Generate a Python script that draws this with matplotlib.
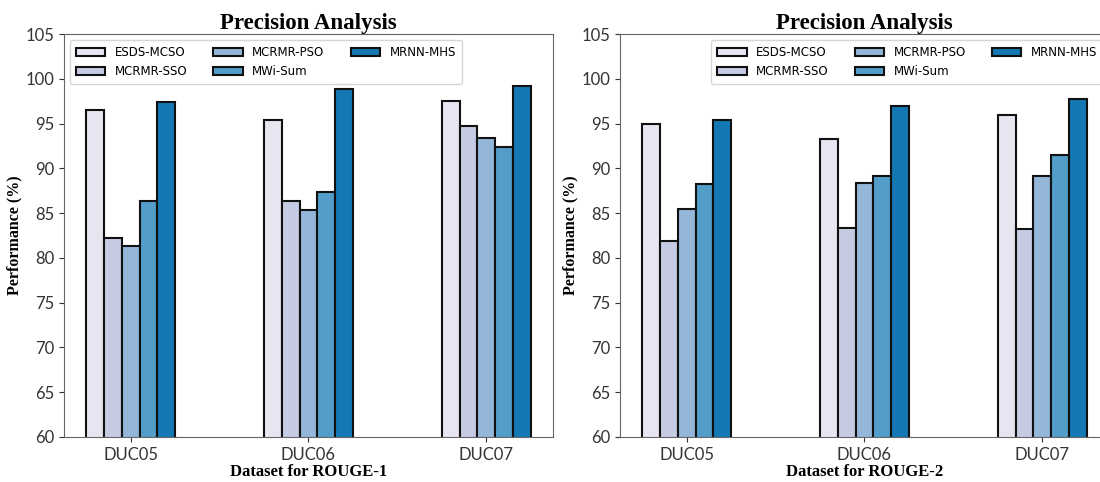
import numpy as np
import matplotlib.pyplot as plt

# data
datasets = ["DUC05", "DUC06", "DUC07"]
methods = ["ESDS-MCSO", "MCRMR-SSO", "MCRMR-PSO", "MWi-Sum", "MRNN-MHS"]
colors = ["#e7e5f1", "#c6cbe4", "#93b6d9", "#529dc9", "#1378b4"]

rouge1 = [
    [96.5, 95.4, 97.5],   # ESDS-MCSO
    [82.2, 86.3, 94.7],   # MCRMR-SSO
    [81.3, 85.3, 93.4],   # MCRMR-PSO
    [86.4, 87.4, 92.4],   # MWi-Sum
    [97.4, 98.9, 99.2],   # MRNN-MHS
]
rouge2 = [
    [94.9, 93.3, 96.0],
    [81.9, 83.3, 83.2],
    [85.5, 88.4, 89.2],
    [88.2, 89.2, 91.5],
    [95.4, 97.0, 97.7],
]

xlabels = ["Dataset for ROUGE-1", "Dataset for ROUGE-2"]
legend_locs = ["upper left", "upper right"]

fig = plt.figure(figsize=(11, 4.82), dpi=100)
ax1 = fig.add_axes([0.0582, 0.0934, 0.4445, 0.836])
ax2 = fig.add_axes([0.5636, 0.0934, 0.4445, 0.836])

x = np.arange(len(datasets))
w = 0.1

for ax, data, xl, loc in zip([ax1, ax2], [rouge1, rouge2], xlabels, legend_locs):
    for i, m in enumerate(methods):
        ax.bar(x + (i - 2) * w, data[i], w, color=colors[i], edgecolor="#111111",
               linewidth=1.5, label=m)
    ax.set_ylim(60, 105)
    ax.set_yticks(range(60, 106, 5))
    ax.set_xticks(x)
    ax.set_xticklabels(datasets)
    ax.tick_params(labelsize=12, colors="#333333")
    for t in ax.get_xticklabels() + ax.get_yticklabels():
        t.set_family("Lato")
    for s in ax.spines.values():
        s.set_color("#666666")
    ax.set_title("Precision Analysis", fontsize=16.5, fontweight="bold",
                 family="Liberation Serif", pad=3)
    ax.set_ylabel("Performance (%)", fontsize=11.5, fontweight="bold",
                  family="Liberation Serif", labelpad=2)
    ax.set_xlabel(xl, fontsize=12, fontweight="bold", family="Liberation Serif",
                  labelpad=1)
    ax.legend(loc=loc, ncol=3, fontsize=8.5, handlelength=2.5, columnspacing=2.2,
              labelspacing=0.55, borderpad=0.5)

fig.savefig("out.png", dpi=100)
